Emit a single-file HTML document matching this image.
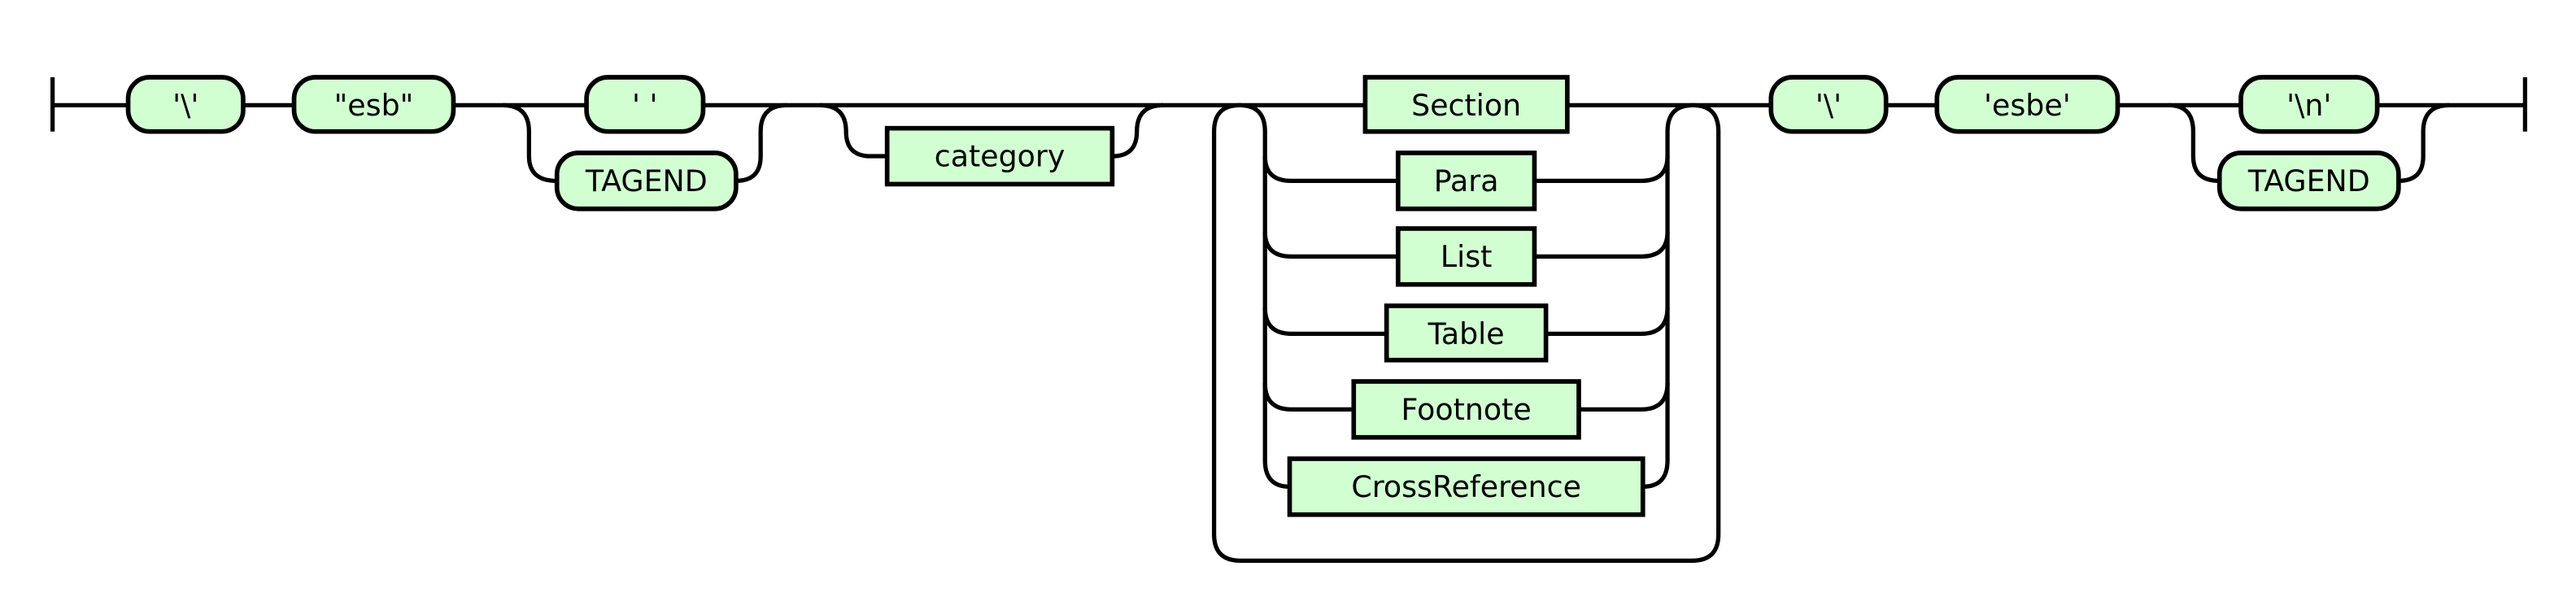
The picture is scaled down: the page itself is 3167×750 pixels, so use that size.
<!DOCTYPE html>
<html><head><meta charset="utf-8"><style>
html,body{margin:0;padding:0;background:#fff;}
svg{display:block;}
text{font-family:"DejaVu Sans","Liberation Sans",sans-serif;font-size:18px;fill:#000;text-anchor:middle;dominant-baseline:central;}
</style></head><body>
<svg width="3167" height="750" viewBox="0 0 1568 371" preserveAspectRatio="none" xmlns="http://www.w3.org/2000/svg">
<g fill="none" stroke="#000" stroke-width="2.6">
<path d="M32,47 V80"/>
<path d="M1537,47 V80"/>
<path d="M32,64 H78 M148,64 H179 M276,64 H357 M428,64 H831 M954,64 H1078 M1148,64 H1179 M1289,64 H1364 M1447,64 H1537"/>
<path d="M306,64 Q322,64 322,80 V95 Q322,110 339,110"/>
<path d="M448,110 Q463,110 463,95 V80 Q463,64 479,64"/>
<path d="M499,64 Q515,64 515,80 Q515,95 530,95 H540"/>
<path d="M677,95 Q692,95 692,80 Q692,64 708,64"/>
<path d="M739,325 V80 Q739,64 754.5,64 Q770,64 770,80 V280 Q770,296 785,296"/>
<path d="M739,325 Q739,341 755,341 H1030 Q1046,341 1046,325 V80 Q1046,64 1030.5,64 Q1015,64 1015,80 V280 Q1015,296 1000,296"/>
<path d="M770,95 Q770,110 786,110 H851 M934,110 H999 Q1015,110 1015,95"/>
<path d="M770,141 Q770,156 786,156 H851 M934,156 H999 Q1015,156 1015,141"/>
<path d="M770,187 Q770,203 786,203 H844 M941,203 H999 Q1015,203 1015,187"/>
<path d="M770,233 Q770,249 786,249 H824 M961,249 H999 Q1015,249 1015,233"/>
<path d="M1320,64 Q1335,64 1335,80 V95 Q1335,110 1351,110"/>
<path d="M1460,110 Q1475,110 1475,95 V80 Q1475,64 1491,64"/>
</g>
<g fill="#d2ffd2" stroke="#000" stroke-width="2.8">
<rect x="78" y="47" width="70" height="33" rx="13"/>
<rect x="179" y="47" width="97" height="33" rx="13"/>
<rect x="357" y="47" width="71" height="33" rx="13"/>
<rect x="339" y="93" width="109" height="34" rx="13"/>
<rect x="540" y="78" width="137" height="34"/>
<rect x="831" y="47" width="123" height="33"/>
<rect x="851" y="93" width="83" height="34"/>
<rect x="851" y="139" width="83" height="34"/>
<rect x="844" y="186" width="97" height="33"/>
<rect x="824" y="232" width="137" height="34"/>
<rect x="785" y="279" width="215" height="34"/>
<rect x="1078" y="47" width="70" height="33" rx="13"/>
<rect x="1179" y="47" width="110" height="33" rx="13"/>
<rect x="1364" y="47" width="83" height="33" rx="13"/>
<rect x="1351" y="93" width="109" height="34" rx="13"/>
</g>
<text x="113" y="64">'\'</text>
<text x="227.5" y="64">"esb"</text>
<text x="392.5" y="64">' '</text>
<text x="393.5" y="110">TAGEND</text>
<text x="608.5" y="95">category</text>
<text x="892.5" y="64">Section</text>
<text x="892.5" y="110">Para</text>
<text x="892.5" y="156">List</text>
<text x="892.5" y="203">Table</text>
<text x="892.5" y="249">Footnote</text>
<text x="892.5" y="296">CrossReference</text>
<text x="1113" y="64">'\'</text>
<text x="1234" y="64">'esbe'</text>
<text x="1405.5" y="64">'\n'</text>
<text x="1405.5" y="110">TAGEND</text>
</svg>
</body></html>
